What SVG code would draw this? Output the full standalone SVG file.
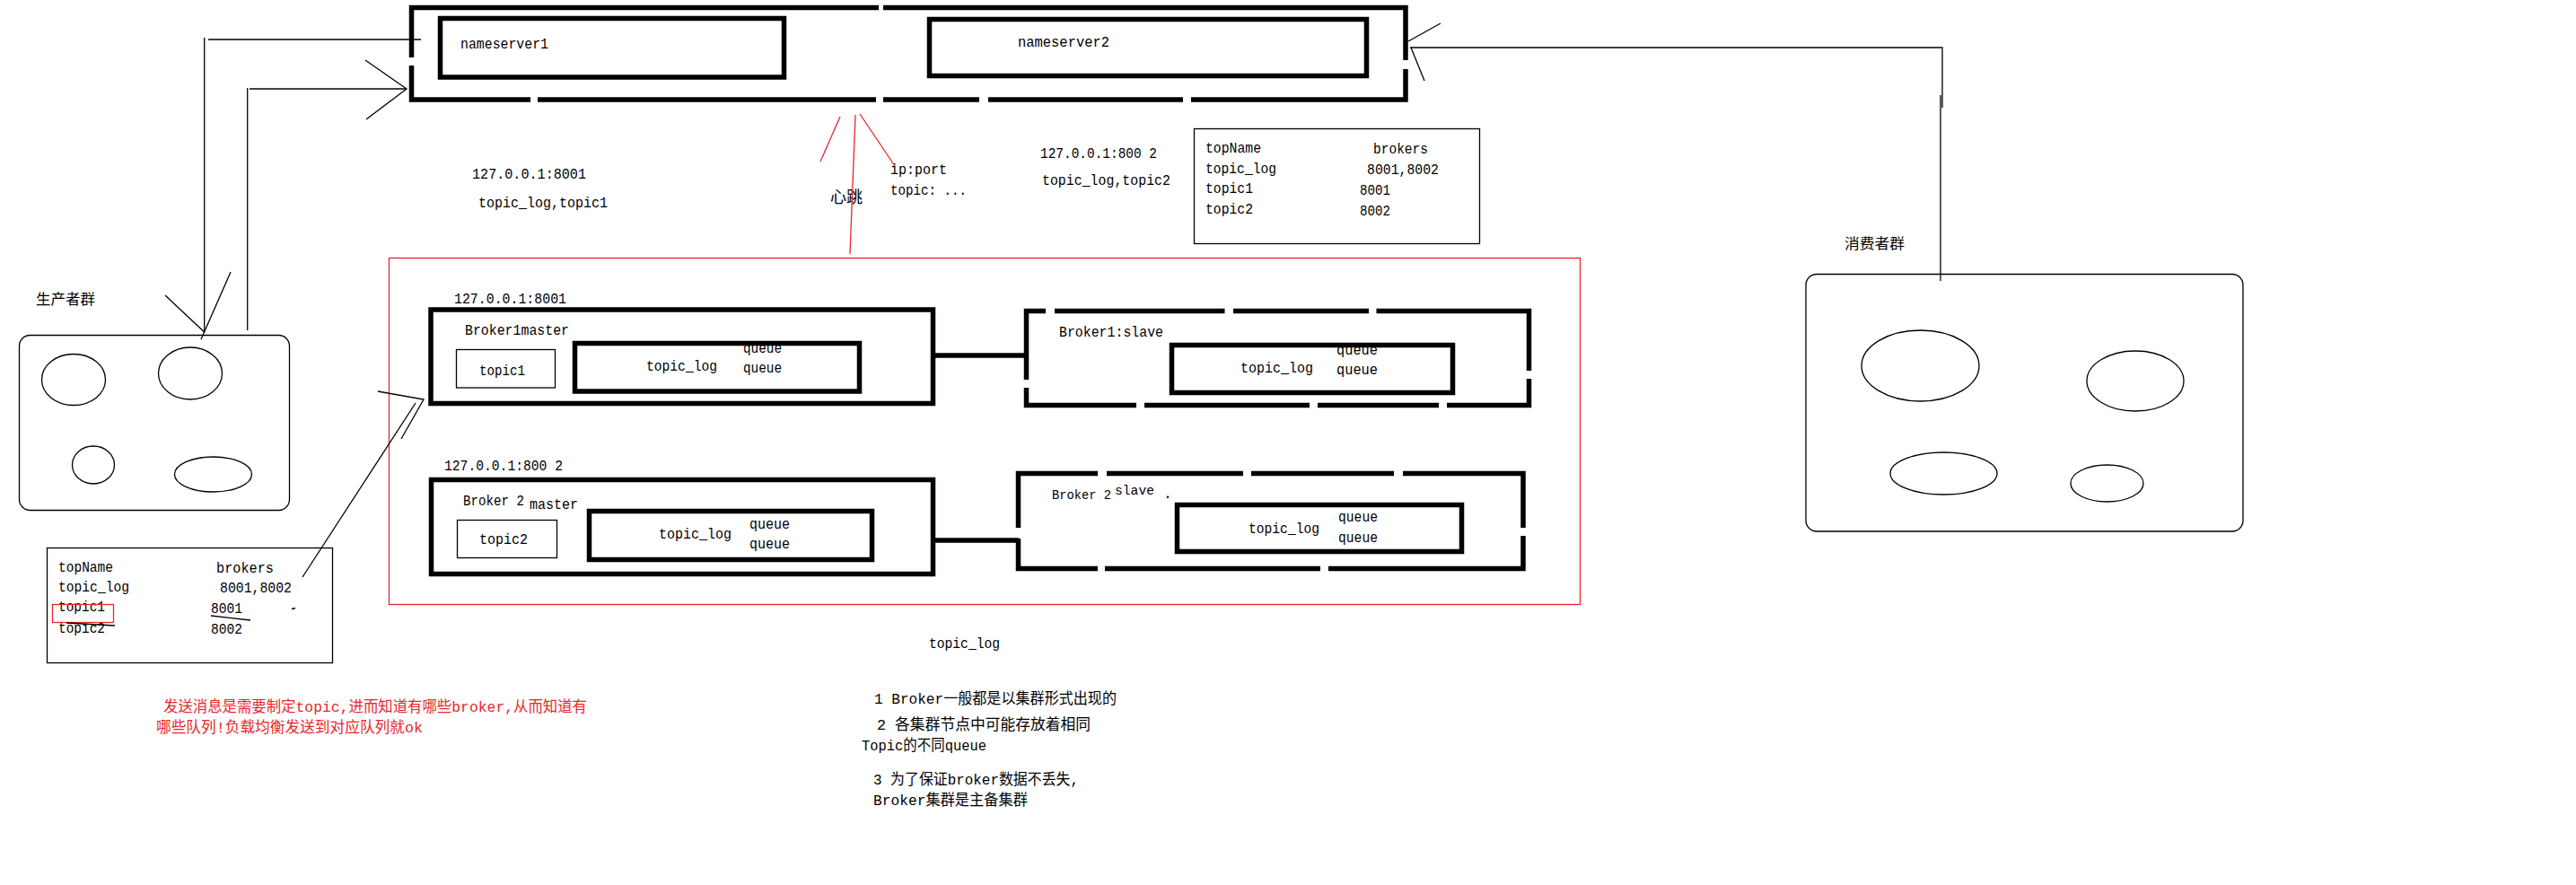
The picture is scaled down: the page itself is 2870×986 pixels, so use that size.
<svg xmlns="http://www.w3.org/2000/svg" width="2870" height="986" viewBox="0 0 2870 986">
<style>
.bg{fill:#fff}
.thick{fill:none;stroke:#000;stroke-width:5.5;stroke-linejoin:miter}
.thin{fill:none;stroke:#000;stroke-width:1.3}
.red{fill:none;stroke:#e8262a;stroke-width:1.3}
.t{font-family:"Liberation Mono","DejaVu Sans Mono",monospace;font-size:16.5px;fill:#000}
.c{font-family:"Noto Sans CJK SC","Noto Sans CJK JP",sans-serif;font-size:16px;fill:#000}
.m{font-family:"Liberation Mono","Noto Sans CJK SC",monospace;font-size:16.5px;fill:#000}
.rt{font-family:"Liberation Mono","Noto Sans CJK SC",monospace;font-size:16.5px;fill:#e8262a}
</style>
<rect class="bg" x="0" y="0" width="2870" height="986"/>

<g id="nameserver-cluster">
  <path class="thick" d="M458.5 64 V8.5 H979"/>
  <path class="thick" d="M984 8.5 H1566 V67"/>
  <path class="thick" d="M1566 77 V111 H1327"/>
  <path class="thick" d="M1318 111 H1101"/>
  <path class="thick" d="M1091 111 H984"/>
  <path class="thick" d="M976 111 H599"/>
  <path class="thick" d="M591 111 H458.5 V73"/>
</g>
<g id="nameserver1">
  <rect class="thick" x="490.5" y="20.5" width="383" height="65.5"/>
  <text class="t" x="513" y="54" textLength="98" lengthAdjust="spacingAndGlyphs">nameserver1</text>
</g>
<g id="nameserver2">
  <rect class="thick" x="1035.5" y="21.5" width="487" height="63"/>
  <text class="t" x="1134" y="52" textLength="102" lengthAdjust="spacingAndGlyphs">nameserver2</text>
</g>

<g id="labels-top">
  <text class="t" x="526" y="199" textLength="127" lengthAdjust="spacingAndGlyphs">127.0.0.1:8001</text>
  <text class="t" x="533" y="231" textLength="144" lengthAdjust="spacingAndGlyphs">topic_log,topic1</text>
  <text class="c" x="925" y="226" style="font-size:18px" textLength="36" lengthAdjust="spacingAndGlyphs">心跳</text>
  <text class="t" x="992" y="194" textLength="63" lengthAdjust="spacingAndGlyphs">ip:port</text>
  <text class="t" x="992" y="217" textLength="85" lengthAdjust="spacingAndGlyphs">topic: ...</text>
  <text class="t" x="1159" y="176" textLength="130" lengthAdjust="spacingAndGlyphs">127.0.0.1:800 2</text>
  <text class="t" x="1161" y="206" textLength="143" lengthAdjust="spacingAndGlyphs">topic_log,topic2</text>
</g>

<g id="route-table-right">
  <rect class="thin" x="1330.5" y="143.5" width="318" height="128"/>
  <text class="t" x="1343" y="170" textLength="62" lengthAdjust="spacingAndGlyphs">topName</text>
  <text class="t" x="1530" y="171" textLength="61" lengthAdjust="spacingAndGlyphs">brokers</text>
  <text class="t" x="1343" y="193" textLength="79" lengthAdjust="spacingAndGlyphs">topic_log</text>
  <text class="t" x="1523" y="194" textLength="80" lengthAdjust="spacingAndGlyphs">8001,8002</text>
  <text class="t" x="1343" y="215" textLength="53" lengthAdjust="spacingAndGlyphs">topic1</text>
  <text class="t" x="1515" y="217" textLength="34" lengthAdjust="spacingAndGlyphs">8001</text>
  <text class="t" x="1343" y="238" textLength="53" lengthAdjust="spacingAndGlyphs">topic2</text>
  <text class="t" x="1515" y="240" textLength="34" lengthAdjust="spacingAndGlyphs">8002</text>
</g>

<g id="broker-cluster">
  <rect class="red" x="433.5" y="287.5" width="1327" height="386"/>
</g>

<g id="broker1-master">
  <text class="t" x="506" y="338" textLength="125" lengthAdjust="spacingAndGlyphs">127.0.0.1:8001</text>
  <rect class="thick" x="480" y="345" width="559.5" height="104.5"/>
  <text class="t" x="518" y="373" textLength="116" lengthAdjust="spacingAndGlyphs">Broker1master</text>
  <rect class="thin" x="508.5" y="389.5" width="110" height="42.5"/>
  <text class="t" x="534" y="418" textLength="51" lengthAdjust="spacingAndGlyphs">topic1</text>
  <rect class="thick" x="640.5" y="382.5" width="317" height="53.5"/>
  <text class="t" x="720" y="413" textLength="79" lengthAdjust="spacingAndGlyphs">topic_log</text>
  <text class="t" x="828" y="393" textLength="43" lengthAdjust="spacingAndGlyphs">queue</text>
  <text class="t" x="828" y="415" textLength="43" lengthAdjust="spacingAndGlyphs">queue</text>
</g>

<g id="broker1-slave">
  <path class="thick" d="M1143.5 423 V346.5 H1165"/>
  <path class="thick" d="M1175 346.5 H1364.5"/>
  <path class="thick" d="M1374 346.5 H1525"/>
  <path class="thick" d="M1533.5 346.5 H1703.5 V413"/>
  <path class="thick" d="M1703.5 422 V451.5 H1612"/>
  <path class="thick" d="M1603 451.5 H1468"/>
  <path class="thick" d="M1459 451.5 H1275"/>
  <path class="thick" d="M1266 451.5 H1143.5 V432"/>
  <text class="t" x="1180" y="375" textLength="116" lengthAdjust="spacingAndGlyphs">Broker1:slave</text>
  <rect class="thick" x="1305.5" y="384.5" width="313" height="53"/>
  <text class="t" x="1382" y="415" textLength="81" lengthAdjust="spacingAndGlyphs">topic_log</text>
  <text class="t" x="1489" y="395" textLength="46" lengthAdjust="spacingAndGlyphs">queue</text>
  <text class="t" x="1489" y="417" textLength="46" lengthAdjust="spacingAndGlyphs">queue</text>
</g>

<g id="broker2-master">
  <text class="t" x="495" y="524" textLength="132" lengthAdjust="spacingAndGlyphs">127.0.0.1:800 2</text>
  <rect class="thick" x="480.5" y="534.5" width="559" height="105"/>
  <text class="t" x="516" y="563" textLength="68" lengthAdjust="spacingAndGlyphs">Broker 2</text>
  <text class="t" x="590" y="567" textLength="54" lengthAdjust="spacingAndGlyphs">master</text>
  <rect class="thin" x="509.5" y="579.5" width="111" height="42"/>
  <text class="t" x="534" y="606" textLength="54" lengthAdjust="spacingAndGlyphs">topic2</text>
  <rect class="thick" x="656.5" y="569.5" width="315" height="54"/>
  <text class="t" x="734" y="600" textLength="81" lengthAdjust="spacingAndGlyphs">topic_log</text>
  <text class="t" x="835" y="589" textLength="45" lengthAdjust="spacingAndGlyphs">queue</text>
  <text class="t" x="835" y="611" textLength="45" lengthAdjust="spacingAndGlyphs">queue</text>
</g>

<g id="broker2-slave">
  <path class="thick" d="M1134.5 588 V527.5 H1223"/>
  <path class="thick" d="M1233 527.5 H1385"/>
  <path class="thick" d="M1394 527.5 H1553"/>
  <path class="thick" d="M1563 527.5 H1697 V588"/>
  <path class="thick" d="M1697 597 V633.5 H1480"/>
  <path class="thick" d="M1471 633.5 H1231"/>
  <path class="thick" d="M1223 633.5 H1134.5 V600"/>
  <text class="t" x="1172" y="556" style="font-size:14px" textLength="66" lengthAdjust="spacingAndGlyphs">Broker 2</text>
  <text class="t" x="1242" y="551" style="font-size:14px" textLength="44" lengthAdjust="spacingAndGlyphs">slave</text>
  <text class="t" x="1296" y="555">.</text>
  <rect class="thick" x="1311.5" y="562.5" width="317" height="52"/>
  <text class="t" x="1391" y="594" textLength="79" lengthAdjust="spacingAndGlyphs">topic_log</text>
  <text class="t" x="1491" y="581" textLength="44" lengthAdjust="spacingAndGlyphs">queue</text>
  <text class="t" x="1491" y="604" textLength="44" lengthAdjust="spacingAndGlyphs">queue</text>
</g>

<g id="producer-group">
  <text class="c" x="40" y="339" textLength="66" lengthAdjust="spacingAndGlyphs">生产者群</text>
  <rect class="thin" x="21.5" y="373.5" width="301" height="195" rx="12" ry="12"/>
  <ellipse class="thin" cx="82" cy="423" rx="35.5" ry="28.5"/>
  <ellipse class="thin" cx="212" cy="416" rx="35.5" ry="29"/>
  <ellipse class="thin" cx="104" cy="518" rx="23.5" ry="21"/>
  <ellipse class="thin" cx="237.5" cy="528.5" rx="43" ry="19.5"/>
</g>

<g id="consumer-group">
  <text class="c" x="2055" y="277" textLength="67" lengthAdjust="spacingAndGlyphs">消费者群</text>
  <rect class="thin" x="2012" y="305.5" width="487" height="286.5" rx="12" ry="12"/>
  <ellipse class="thin" cx="2139.5" cy="407.5" rx="65.5" ry="39.5"/>
  <ellipse class="thin" cx="2379" cy="424.5" rx="54" ry="33.5"/>
  <ellipse class="thin" cx="2165.5" cy="527.5" rx="59.5" ry="23.5"/>
  <ellipse class="thin" cx="2347.5" cy="538.5" rx="40.5" ry="20.5"/>
</g>

<g id="route-table-left">
  <rect class="thin" x="52.5" y="610.5" width="318" height="128"/>
  <text class="t" x="65" y="637" textLength="61" lengthAdjust="spacingAndGlyphs">topName</text>
  <text class="t" x="241" y="638" textLength="64" lengthAdjust="spacingAndGlyphs">brokers</text>
  <text class="t" x="65" y="659" textLength="79" lengthAdjust="spacingAndGlyphs">topic_log</text>
  <text class="t" x="245" y="660" textLength="80" lengthAdjust="spacingAndGlyphs">8001,8002</text>
  <text class="t" x="65" y="681" textLength="52" lengthAdjust="spacingAndGlyphs">topic1</text>
  <text class="t" x="235" y="683" textLength="35" lengthAdjust="spacingAndGlyphs">8001</text>
  <text class="t" x="65" y="705" textLength="52" lengthAdjust="spacingAndGlyphs">topic2</text>
  <text class="t" x="235" y="706" textLength="35" lengthAdjust="spacingAndGlyphs">8002</text>
  <rect class="red" x="58.5" y="673.5" width="68" height="20"/>
  <path class="thin" d="M235 686 L279 691"/>
  <path class="thin" d="M74 694 L128 697" style="stroke-width:1.6"/>
  <path class="thin" d="M325 678.5 L329 677.5"/>
</g>

<g id="notes">
  <text class="rt" x="182" y="793" textLength="472" lengthAdjust="spacingAndGlyphs">发送消息是需要制定topic,进而知道有哪些broker,从而知道有</text>
  <text class="rt" x="174" y="816" textLength="297" lengthAdjust="spacingAndGlyphs">哪些队列!负载均衡发送到对应队列就ok</text>
  <text class="m" x="1035" y="722" textLength="79" lengthAdjust="spacingAndGlyphs">topic_log</text>
  <text class="m" x="974" y="784" textLength="270" lengthAdjust="spacingAndGlyphs">1 Broker一般都是以集群形式出现的</text>
  <text class="m" x="977" y="813" textLength="238" lengthAdjust="spacingAndGlyphs">2 各集群节点中可能存放着相同</text>
  <text class="m" x="960" y="836" textLength="139" lengthAdjust="spacingAndGlyphs">Topic的不同queue</text>
  <text class="m" x="973" y="874" textLength="229" lengthAdjust="spacingAndGlyphs">3 为了保证broker数据不丢失,</text>
  <text class="m" x="973" y="897" textLength="172" lengthAdjust="spacingAndGlyphs">Broker集群是主备集群</text>
</g>

<g id="connectors">
  <path class="thin" d="M227.7 42 V370"/>
  <path class="thin" d="M232 44 H469"/>
  <path class="thin" d="M184 329 L227.7 370 M257 303 L224 378"/>
  <path class="thin" d="M275.7 98 V368"/>
  <path class="thin" d="M278 99 H453"/>
  <path class="thin" d="M407 67 L453 99 L408 133"/>
  <path class="thin" d="M337 643 L463 449"/>
  <path class="thin" d="M421 436 L472 445 L447 489"/>
  <path class="thin" d="M1571 53 H2163"/>
  <path class="thin" d="M2164 52 V120"/>
  <path class="thin" d="M2162 106 V313"/>
  <path class="thin" d="M1605 26 L1569 46 M1572 53 L1587 90"/>
  <path class="red" d="M953 128 L947 283"/>
  <path class="red" d="M936 130 L914 180"/>
  <path class="red" d="M958 127 L997 185"/>
  <path class="thick" d="M1042 396 H1143"/>
  <path class="thick" d="M1042 602 H1135"/>
</g>
</svg>
